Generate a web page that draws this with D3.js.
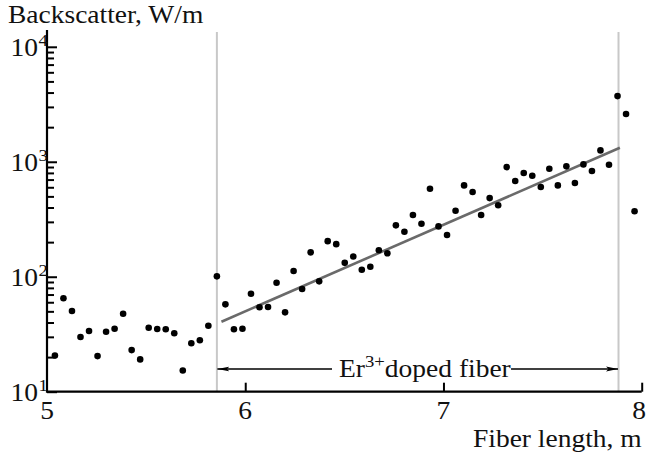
<!DOCTYPE html>
<html>
<head>
<meta charset="utf-8">
<script src="https://cdn.jsdelivr.net/npm/d3@7"></script>
<style>
  body { margin: 0; background: #fff; }
</style>
</head>
<body>
<div id="chart"></div>
<script>
// fiber position, m
const fiberX = [5.040, 5.083, 5.126, 5.169, 5.212, 5.255, 5.298, 5.341, 5.384, 5.427,
  5.470, 5.513, 5.556, 5.599, 5.642, 5.685, 5.728, 5.771, 5.814, 5.857,
  5.900, 5.943, 5.986, 6.029, 6.072, 6.115, 6.158, 6.201, 6.244, 6.287,
  6.330, 6.373, 6.416, 6.459, 6.502, 6.545, 6.588, 6.631, 6.674, 6.717,
  6.760, 6.803, 6.846, 6.889, 6.932, 6.975, 7.018, 7.061, 7.104, 7.147,
  7.190, 7.233, 7.276, 7.319, 7.362, 7.405, 7.448, 7.491, 7.534, 7.577,
  7.620, 7.663, 7.706, 7.749, 7.792, 7.835, 7.878, 7.921, 7.964];
// backscatter, W/m
const backscatter = [20.6, 64.9, 50.3, 29.9, 33.7, 20.4, 33.2, 35.3, 47.7, 23.0,
  19.1, 36.0, 35.1, 34.9, 32.2, 15.3, 26.4, 28.0, 37.5, 100.8,
  57.5, 34.9, 35.3, 71.1, 54.2, 54.5, 88.7, 49.0, 112, 78.2,
  163, 91.2, 204, 192, 132, 150, 115, 122, 170, 160,
  280, 246, 344, 289, 582, 274, 231, 375, 623, 545,
  344, 483, 418, 899, 680, 798, 756, 603, 869, 623,
  912, 653, 949, 830, 1256, 942, 3725, 2600, 371];

// exponential fit over the doped section
const fitX = [5.88, 7.89];
const fitY = [40.6, 1324];
// doped fiber boundaries
const bounds = [5.857, 7.883];

const xTicks = [5, 6, 7, 8];
const yMajor = [10, 100, 1000, 10000];
const yExp = ["1", "2", "3", "4"];

const W = 647, H = 455;
const margin = { left: 47, right: 5.3, top: 30, bottom: 63.3 };
const SX = 1.1; // the original lettering is a bit wide

const svg = d3.select("#chart").append("svg")
  .attr("width", W).attr("height", H);

const x = d3.scaleLinear().domain([5, 8]).range([margin.left, W - margin.right]);
const y = d3.scaleLog().domain([10, 14000]).range([H - margin.bottom, margin.top]);

const y0 = y.range()[0];

// grey boundary lines
svg.selectAll("line.bound")
  .data(bounds)
  .join("line")
  .attr("class", "bound")
  .attr("x1", d => x(d)).attr("x2", d => x(d))
  .attr("y1", margin.top + 2).attr("y2", y0)
  .attr("stroke", "#c8c8c8").attr("stroke-width", 2);

// minor y ticks
let minor = [];
for (let dec = 10; dec < 10000; dec *= 10) {
  for (let k = 2; k <= 9; k++) minor.push(dec * k);
}
svg.append("g")
  .attr("transform", `translate(${margin.left},0)`)
  .call(d3.axisLeft(y).tickValues(minor).tickSizeInner(-7).tickSizeOuter(0).tickFormat(""))
  .call(g => g.select(".domain").remove())
  .selectAll("line").attr("stroke", "#000").attr("stroke-width", 2);

// major y ticks
const yAxis = svg.append("g")
  .attr("transform", `translate(${margin.left},0)`)
  .call(d3.axisLeft(y).tickValues(yMajor).tickSizeInner(-10).tickSizeOuter(0).tickFormat(""));
yAxis.select(".domain").remove();
yAxis.selectAll("line").attr("stroke", "#000").attr("stroke-width", 2);

// x ticks
const xAxis = svg.append("g")
  .attr("transform", `translate(0,${y0})`)
  .call(d3.axisBottom(x).tickValues(xTicks.slice(1)).tickSizeInner(-9).tickSizeOuter(0).tickFormat(""));
xAxis.select(".domain").remove();
xAxis.selectAll("line").attr("stroke", "#000").attr("stroke-width", 2);

// axis lines
svg.append("path")
  .attr("d", `M${margin.left},${margin.top}V${y0}H${x(8)}`)
  .attr("fill", "none").attr("stroke", "#000").attr("stroke-width", 2.2);

// text placed in a horizontally stretched group
function label(px, py, anchor, size) {
  return svg.append("g")
    .attr("transform", `translate(${px},${py}) scale(${SX},1)`)
    .append("text")
    .attr("text-anchor", anchor)
    .attr("font-size", size)
    .style("font-family", "'Liberation Serif'")
    .attr("fill", "#111");
}

// y tick labels 10^n
yMajor.forEach((d, i) => {
  label(38, y(d) + 9.5, "end", 25).text("10");
  label(38.5, y(d) - 0.5, "start", 17).text(yExp[i]);
});

// x tick labels (last one kept inside the page)
xTicks.forEach((d, i) => {
  const last = i === xTicks.length - 1;
  label(last ? W - 1 : x(d), y0 + 27.5, last ? "end" : "middle", 25).text(d);
});

// axis titles
label(8, 23, "start", 25).text("Backscatter, W/m");
label(x(8), 447, "end", 25).text("Fiber length, m");

// fit line
svg.append("line")
  .attr("x1", x(fitX[0])).attr("y1", y(fitY[0]))
  .attr("x2", x(fitX[1])).attr("y2", y(fitY[1]))
  .attr("stroke", "#6a6a6a").attr("stroke-width", 2.6);

// data points
svg.selectAll("circle")
  .data(fiberX)
  .join("circle")
  .attr("cx", d => x(d))
  .attr("cy", (d, i) => y(backscatter[i]))
  .attr("r", 3.3)
  .attr("fill", "#000");

// doped fiber arrow
svg.append("defs").append("marker")
  .attr("id", "arr")
  .attr("viewBox", "0 0 12 6")
  .attr("refX", 12).attr("refY", 3)
  .attr("markerWidth", 12).attr("markerHeight", 6)
  .attr("markerUnits", "userSpaceOnUse")
  .attr("orient", "auto")
  .append("path")
  .attr("d", "M0,0.6L12,3L0,5.4L2.5,3Z")
  .attr("fill", "#000");

const arrowY = 369;
const labX = 339;
const lab = label(labX, 377, "start", 25);
lab.append("tspan").text("Er");
lab.append("tspan").attr("dy", -10).attr("font-size", 17).text("3+");
lab.append("tspan").attr("dy", 10).text("doped fiber");

const labW = lab.node().getBBox().width * SX;
svg.append("line")
  .attr("x1", labX - 7).attr("x2", x(bounds[0]) + 0.5)
  .attr("y1", arrowY).attr("y2", arrowY)
  .attr("stroke", "#000").attr("stroke-width", 1.6)
  .attr("marker-end", "url(#arr)");
svg.append("line")
  .attr("x1", labX + labW).attr("x2", x(bounds[1]) - 0.5)
  .attr("y1", arrowY).attr("y2", arrowY)
  .attr("stroke", "#000").attr("stroke-width", 1.6)
  .attr("marker-end", "url(#arr)");
</script>
</body>
</html>
